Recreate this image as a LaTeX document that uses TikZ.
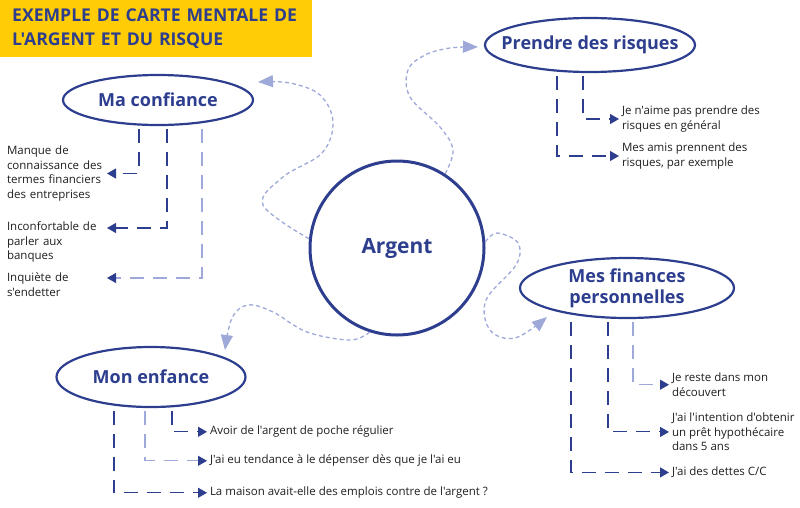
\documentclass[tikz,border=0pt]{standalone}
\usepackage{fontspec}
\setmainfont{Open Sans}[Ligatures=TeXOff]
\usepackage{xcolor}
\usepackage{tikz}
\usetikzlibrary{arrows.meta,positioning,shapes.geometric}
\definecolor{navy}{HTML}{2D3E8E}
\definecolor{paleblue}{HTML}{9EA9D9}
\definecolor{sun}{HTML}{FFCC05}
\definecolor{ink}{HTML}{1E1E1E}

\begin{document}
\begin{tikzpicture}[
  x=1pt, y=-1pt,
  heading/.style={fill=sun, anchor=north west, minimum width=312pt, minimum height=57pt, inner xsep=12pt, text width=288pt, align=left, text=navy, font=\fontsize{17.6}{23.5}\selectfont\bfseries},
  topic/.style={draw=navy, line width=2.2pt, ellipse, inner xsep=-25pt, inner ysep=0pt, align=center, text=navy, font=\fontsize{18}{21}\selectfont\bfseries},
  hub/.style={draw=navy, line width=3pt, circle, minimum size=174pt, text=navy, font=\fontsize{21}{24}\selectfont\bfseries},
  item/.style={inner sep=0pt, outer xsep=3pt, outer ysep=0pt, anchor=north west, align=left, text=ink, font=\fontsize{11.5}{14.5}\selectfont},
  branch/.style={navy, line width=1.1pt, dash pattern=on 14pt off 9pt, -{Triangle[length=9pt,width=10pt,color=navy]}},
  branchlt/.style={branch, paleblue},
  wave/.style={paleblue, line width=1.3pt, dash pattern=on 4pt off 3pt, -{Triangle[length=15pt,width=12pt]}, smooth, tension=0.6}
]
\useasboundingbox (0,0) rectangle (800,507);

\node[heading] (title) at (0,0) {EXEMPLE DE CARTE MENTALE DE\\L'ARGENT ET DU RISQUE};

\node[hub] (arg) at (397,248) {Argent};
\node[topic, minimum width=190pt, minimum height=50pt] (conf) at (158,100) {Ma confiance};
\node[topic, minimum width=210pt, minimum height=54pt] (risk) at (590,45) {Prendre des risques};
\node[topic, minimum width=214pt, minimum height=60pt] (fin) at (627,288) {Mes finances\\personnelles};
\node[topic, minimum width=189pt, minimum height=60pt] (kid) at (151,377) {Mon enfance};

\coordinate (toconf) at (258,82);
\coordinate (torisk) at (478,47);
\coordinate (tofin) at (547,317);
\coordinate (tokid) at (225,350);

\draw[wave] plot coordinates {(arg.174) (263,205) (283,177) (322,153) (333,122) (320,95) (290,83) (toconf)};
\draw[wave] plot coordinates {(arg.57) (453,150) (440,127) (410,97) (408,70) (425,55) (450,48) (torisk)};
\draw[wave] plot coordinates {(arg.4) (497,233) (518,243) (516,265) (486,300) (490,330) (515,338) (tofin)};
\draw[wave] plot coordinates {(arg.-108) (350,340) (307,332) (273,312) (248,305) (232,318) (tokid)};

\node[item, text width=97pt] (m1) at (4,146) {Manque de\\connaissance des\\termes financiers\\des entreprises};
\node[item, text width=97pt] (m2) at (4,222) {Inconfortable de\\parler aux\\banques};
\node[item, text width=97pt] (m3) at (4,273) {Inquiète de\\s'endetter};

\node[item] (p1) at (619,106) {Je n'aime pas prendre des\\risques en général};
\node[item] (p2) at (619,143) {Mes amis prennent des\\risques, par exemple};

\node[item] (f1) at (669,373) {Je reste dans mon\\découvert};
\node[item] (f2) at (669,413) {J'ai l'intention d'obtenir\\un prêt hypothécaire\\dans 5 ans};
\node[item] (f3) at (669,467) {J'ai des dettes C/C};

\node[item] (e1) at (207,426) {Avoir de l'argent de poche régulier};
\node[item] (e2) at (207,455) {J'ai eu tendance à le dépenser dès que je l'ai eu};
\node[item] (e3) at (207,487) {La maison avait-elle des emplois contre de l'argent ?};

\draw[branch] ([xshift=-19pt,yshift=-3pt]conf.south) |- (m1.east);
\draw[branch] ([xshift=9pt,yshift=-3pt]conf.south) |- ([yshift=-6pt]m2.north east);
\draw[branchlt] ([xshift=44pt,yshift=-3pt]conf.south) |- ([yshift=-5pt]m3.north east);

\draw[branch] ([xshift=-7pt,yshift=-3pt]risk.south) |- (p1.west);
\draw[branch] ([xshift=-33pt,yshift=-3pt]risk.south) |- (p2.west);

\draw[branchlt] ([xshift=6pt,yshift=-3pt]fin.south) |- (f1.west);
\draw[branch] ([xshift=-19pt,yshift=-3pt]fin.south) |- (f2.west);
\draw[branch] ([xshift=-56pt,yshift=-3pt]fin.south) |- (f3.west);

\draw[branch] ([xshift=21pt,yshift=-3pt]kid.south) |- (e1.west);
\draw[branchlt] ([xshift=-6pt,yshift=-3pt]kid.south) |- (e2.west);
\draw[branch] ([xshift=-37pt,yshift=-3pt]kid.south) |- (e3.west);
\end{tikzpicture}
\end{document}
